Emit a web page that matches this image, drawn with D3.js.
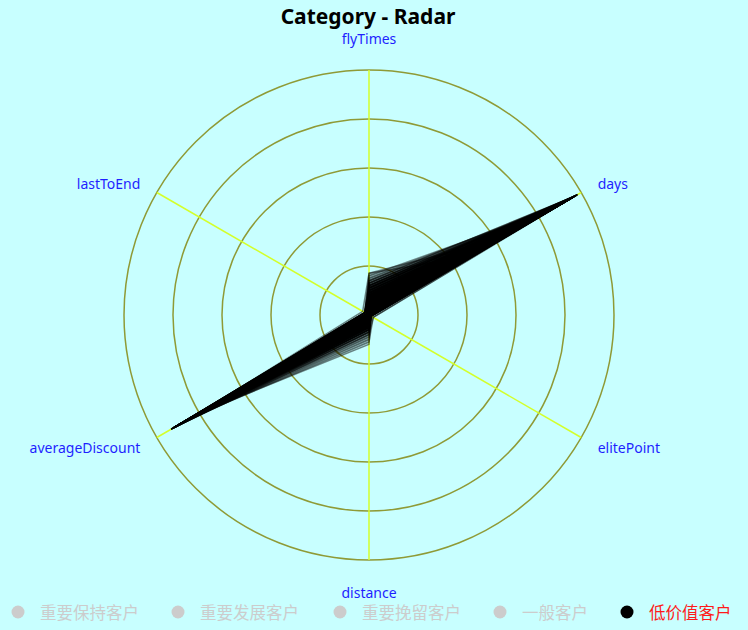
<!DOCTYPE html>
<html>
<head>
<meta charset="utf-8">
<script src="https://cdn.jsdelivr.net/npm/d3@7"></script>
<style>
  html, body { margin: 0; padding: 0; background: #c8ffff; }
  svg { display: block; }
</style>
</head>
<body>
<div id="chart"></div>
<script>
// axes, clockwise from the top
const indicators = ['flyTimes', 'days', 'elitePoint', 'distance', 'averageDiscount', 'lastToEnd'];
const legendNames = ['重要保持客户', '重要发展客户', '重要挽留客户', '一般客户', '低价值客户'];
const activeLegend = '低价值客户';
const ringLevels = [0.2, 0.4, 0.6, 0.8, 1.0];

// 低价值客户 rows: flyTimes, days, elitePoint, distance, averageDiscount, lastToEnd
const lowValue = [
  [0.05, 0.97, 0.00, 0.03, 0.92, 0.01],
  [0.08, 0.96, 0.01, 0.04, 0.91, 0.00],
  [0.11, 0.98, 0.00, 0.05, 0.93, 0.02],
  [0.03, 0.95, 0.00, 0.02, 0.90, 0.01],
  [0.13, 0.97, 0.01, 0.06, 0.92, 0.00],
  [0.07, 0.94, 0.00, 0.03, 0.89, 0.01],
  [0.09, 0.96, 0.00, 0.05, 0.92, 0.02],
  [0.02, 0.97, 0.00, 0.01, 0.91, 0.00],
  [0.12, 0.95, 0.01, 0.07, 0.90, 0.01],
  [0.06, 0.98, 0.00, 0.02, 0.93, 0.00],
  [0.10, 0.93, 0.00, 0.04, 0.88, 0.02],
  [0.04, 0.96, 0.00, 0.03, 0.92, 0.01],
  [0.14, 0.97, 0.02, 0.08, 0.91, 0.00],
  [0.08, 0.95, 0.00, 0.04, 0.90, 0.01],
  [0.05, 0.94, 0.00, 0.02, 0.91, 0.00],
  [0.11, 0.96, 0.01, 0.06, 0.93, 0.01],
  [0.17, 0.62, 0.01, 0.10, 0.86, 0.02],
  [0.09, 0.98, 0.00, 0.03, 0.92, 0.00],
  [0.03, 0.97, 0.00, 0.02, 0.90, 0.01],
  [0.12, 0.94, 0.00, 0.05, 0.89, 0.00],
  [0.07, 0.97, 0.00, 0.04, 0.93, 0.02],
  [0.15, 0.90, 0.01, 0.09, 0.88, 0.01],
  [0.06, 0.95, 0.00, 0.03, 0.91, 0.00],
  [0.10, 0.97, 0.00, 0.06, 0.92, 0.01],
  [0.04, 0.98, 0.00, 0.01, 0.93, 0.00],
  [0.13, 0.93, 0.01, 0.07, 0.90, 0.02],
  [0.08, 0.96, 0.00, 0.02, 0.91, 0.01],
  [0.02, 0.94, 0.00, 0.02, 0.89, 0.00],
  [0.11, 0.98, 0.00, 0.04, 0.92, 0.00],
  [0.16, 0.85, 0.02, 0.11, 0.84, 0.01],
  [0.05, 0.96, 0.00, 0.03, 0.92, 0.01],
  [0.09, 0.95, 0.00, 0.05, 0.91, 0.02],
  [0.12, 0.97, 0.01, 0.06, 0.93, 0.00],
  [0.07, 0.93, 0.00, 0.04, 0.90, 0.01],
  [0.03, 0.96, 0.00, 0.02, 0.92, 0.00],
  [0.10, 0.94, 0.00, 0.05, 0.89, 0.01],
  [0.14, 0.96, 0.01, 0.08, 0.91, 0.02],
  [0.06, 0.97, 0.00, 0.03, 0.93, 0.00],
  [0.08, 0.98, 0.00, 0.04, 0.92, 0.01],
  [0.17, 0.48, 0.01, 0.12, 0.80, 0.03],
  [0.04, 0.95, 0.00, 0.02, 0.90, 0.00],
  [0.11, 0.96, 0.00, 0.07, 0.91, 0.01],
  [0.09, 0.97, 0.00, 0.03, 0.93, 0.00],
  [0.13, 0.95, 0.01, 0.06, 0.92, 0.02],
  [0.05, 0.93, 0.00, 0.04, 0.88, 0.01],
  [0.07, 0.96, 0.00, 0.05, 0.91, 0.00],
  [0.12, 0.98, 0.00, 0.03, 0.92, 0.01],
  [0.02, 0.96, 0.00, 0.01, 0.90, 0.00]
];

const width = 748, height = 630;
const cx = 369, cy = 315, R = 245;
const font = '"Noto Sans", "Noto Sans CJK SC", sans-serif';

const svg = d3.select('#chart').append('svg')
    .attr('width', width)
    .attr('height', height)
    .style('background', '#c8ffff');

const rScale = d3.scaleLinear().domain([0, 1]).range([0, R]);
const angle = d3.scaleLinear().domain([0, indicators.length]).range([0, 2 * Math.PI]);

const g = svg.append('g').attr('transform', `translate(${cx},${cy})`);

// split rings
g.selectAll('circle.ring')
    .data(ringLevels)
    .join('circle')
    .attr('class', 'ring')
    .attr('r', d => rScale(d))
    .attr('fill', 'none')
    .attr('stroke', '#8f9a36')
    .attr('stroke-width', 1.5);

// axis lines
g.selectAll('line.axis')
    .data(indicators)
    .join('line')
    .attr('class', 'axis')
    .attr('x1', 0).attr('y1', 0)
    .attr('x2', (d, i) => rScale(1) * Math.sin(angle(i)))
    .attr('y2', (d, i) => -rScale(1) * Math.cos(angle(i)))
    .attr('stroke', '#d4ff2a')
    .attr('stroke-width', 1.5);

// series lines
const radarLine = d3.lineRadial()
    .angle((d, i) => angle(i))
    .radius(d => rScale(d))
    .curve(d3.curveLinearClosed);

g.append('g').selectAll('path')
    .data(lowValue)
    .join('path')
    .attr('d', radarLine)
    .attr('fill', '#000')
    .attr('fill-opacity', 0.12)
    .attr('stroke', '#000')
    .attr('stroke-opacity', 0.45)
    .attr('stroke-width', 1.5)
    .attr('stroke-linejoin', 'round');

// indicator names
g.selectAll('text.name')
    .data(indicators)
    .join('text')
    .attr('class', 'name')
    .attr('x', (d, i) => {
        const s = Math.sin(angle(i));
        return Math.abs(s) < 0.01 ? 0 : 264 * s;
    })
    .attr('y', (d, i) => {
        const c = Math.cos(angle(i));
        return Math.abs(c) > 0.99 ? -277 * c : -264 * c;
    })
    .attr('text-anchor', (d, i) => {
        const s = Math.sin(angle(i));
        return Math.abs(s) < 0.01 ? 'middle' : (s > 0 ? 'start' : 'end');
    })
    .attr('dominant-baseline', 'central')
    .attr('font-family', font)
    .attr('font-size', 14)
    .attr('fill', '#1f1fff')
    .text(d => d);

// title
svg.append('text')
    .attr('x', 368)
    .attr('y', 16)
    .attr('text-anchor', 'middle')
    .attr('dominant-baseline', 'central')
    .attr('font-family', font)
    .attr('font-weight', 'bold')
    .attr('font-size', 21)
    .attr('fill', '#000')
    .text('Category - Radar');

// legend
const legendX = [18, 178, 340, 500, 627];
const legend = svg.append('g').selectAll('g')
    .data(legendNames)
    .join('g')
    .attr('transform', (d, i) => `translate(${legendX[i]},612)`);

legend.append('circle')
    .attr('r', 6.5)
    .attr('fill', d => d === activeLegend ? '#000' : '#ccc');

legend.append('text')
    .attr('x', 22)
    .attr('dominant-baseline', 'central')
    .attr('font-family', font)
    .attr('font-size', 16.5)
    .attr('fill', d => d === activeLegend ? '#ff1a1a' : '#ccc')
    .text(d => d);
</script>
</body>
</html>
